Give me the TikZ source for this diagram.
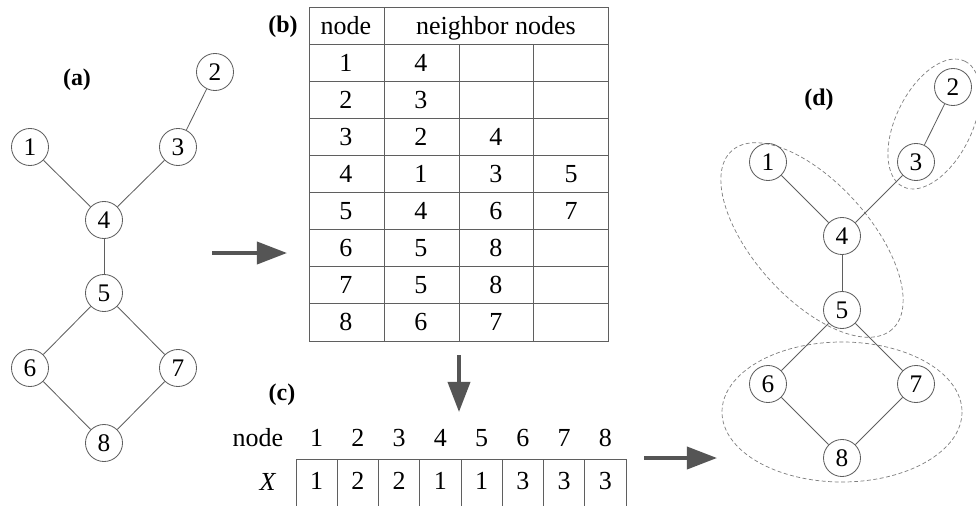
\documentclass[tikz,border=0pt]{standalone}
\usepackage{fontspec}
\setmainfont{Liberation Serif}
\usetikzlibrary{arrows.meta}

\definecolor{edgegray}{RGB}{95,95,95}
\definecolor{arrowgray}{RGB}{85,85,85}
\definecolor{dashgray}{RGB}{125,125,125}

\begin{document}
\begin{tikzpicture}[x=0.025cm,y=-0.025cm,
    vertex/.style={circle,draw=edgegray,line width=0.6pt,minimum size=0.925cm,inner sep=0pt,font=\fontsize{18}{18}\selectfont},
    edge/.style={draw=edgegray,line width=0.6pt},
    bigarrow/.style={draw=arrowgray,line width=2.6pt,-{Triangle[length=0.75cm,width=0.55cm]}},
    cell/.style={anchor=base,inner sep=0pt,font=\fontsize{18.5}{18.5}\selectfont},
    panel/.style={font=\fontsize{17}{17}\selectfont\bfseries},
    group/.style={draw=dashgray,line width=0.5pt,dash pattern=on 2.8pt off 1.8pt}]

  \useasboundingbox (0,0) rectangle (976,506);

  % (a) the input graph
  \node[panel] (la) at (77,80) {(a)};
  \node[vertex] (a1) at (30,147) {1};
  \node[vertex] (a2) at (215,72) {2};
  \node[vertex] (a3) at (178,147) {3};
  \node[vertex] (a4) at (104,220) {4};
  \node[vertex] (a5) at (104,293) {5};
  \node[vertex] (a6) at (30,368) {6};
  \node[vertex] (a7) at (178,368) {7};
  \node[vertex] (a8) at (104,443) {8};
  \draw[edge] (a1) -- (a4);
  \draw[edge] (a2) -- (a3);
  \draw[edge] (a3) -- (a4);
  \draw[edge] (a4) -- (a5);
  \draw[edge] (a5) -- (a6);
  \draw[edge] (a5) -- (a7);
  \draw[edge] (a6) -- (a8);
  \draw[edge] (a7) -- (a8);

  % arrows between the panels
  \coordinate (ab0) at (212,253);
  \coordinate (ab1) at (287,253);
  \coordinate (bc0) at (459,355);
  \coordinate (bc1) at (459,412);
  \coordinate (cd0) at (644,458);
  \coordinate (cd1) at (717,458);
  \draw[bigarrow] (ab0) -- (ab1);
  \draw[bigarrow] (bc0) -- (bc1);
  \draw[bigarrow] (cd0) -- (cd1);

  % (b) neighbor table
  \node[panel] (lb) at (283,27) {(b)};
  \draw[edge] (309,7) rectangle (608,341);
  \foreach \r in {1,...,8}
    \draw[edge] (309,7+37.11*\r) -- (608,7+37.11*\r);
  \draw[edge] (384,7) -- (384,341);
  \draw[edge] (459,44.11) -- (459,341);
  \draw[edge] (533,44.11) -- (533,341);
  \node[cell] (hnode) at (346,34) {node};
  \node[cell] (hnb) at (496,34) {neighbor nodes};
  \foreach \n/\nbs [count=\r] in {1/{4},2/{3},3/{2,4},4/{1,3,5},5/{4,6,7},6/{5,8},7/{5,8},8/{6,7}} {
    \node[cell] (t\n) at (346,34+37.11*\r) {\n};
    \foreach \m [count=\k] in \nbs
      \node[cell] (t\n-\k) at (346+75*\k,34+37.11*\r) {\m};
  }

  % (c) label vector
  \node[panel] (lc) at (282,395) {(c)};
  \node[cell] (cnode) at (258,446) {node};
  \node[cell] (cx) at (268,490) {\textit{X}};
  \draw[edge] (296,512) |- (626,459) -- (626,512);
  \foreach \i in {1,...,7}
    \draw[edge] (296+41.25*\i,459) -- (296+41.25*\i,512);
  \foreach \x [count=\i] in {1,2,2,1,1,3,3,3} {
    \node[cell] (cn\i) at (296+41.25*\i-20.6,446) {\i};
    \node[cell] (cv\i) at (296+41.25*\i-20.6,489) {\x};
  }

  % (d) grouped graph
  \node[panel] (ld) at (819,100) {(d)};
  \draw[group,rotate around={63.7:(934,124)}] (934,124) ellipse [x radius=70,y radius=38];
  \draw[group,rotate around={-48:(812,240)}] (812,240) ellipse [x radius=120,y radius=58];
  \draw[group] (842,412) ellipse [x radius=120,y radius=70];
  \node[vertex] (d1) at (768,162) {1};
  \node[vertex] (d2) at (953,87) {2};
  \node[vertex] (d3) at (916,162) {3};
  \node[vertex] (d4) at (842,236) {4};
  \node[vertex] (d5) at (842,310) {5};
  \node[vertex] (d6) at (768,384) {6};
  \node[vertex] (d7) at (916,384) {7};
  \node[vertex] (d8) at (842,458) {8};
  \draw[edge] (d1) -- (d4);
  \draw[edge] (d2) -- (d3);
  \draw[edge] (d3) -- (d4);
  \draw[edge] (d4) -- (d5);
  \draw[edge] (d5) -- (d6);
  \draw[edge] (d5) -- (d7);
  \draw[edge] (d6) -- (d8);
  \draw[edge] (d7) -- (d8);
\end{tikzpicture}
\end{document}
